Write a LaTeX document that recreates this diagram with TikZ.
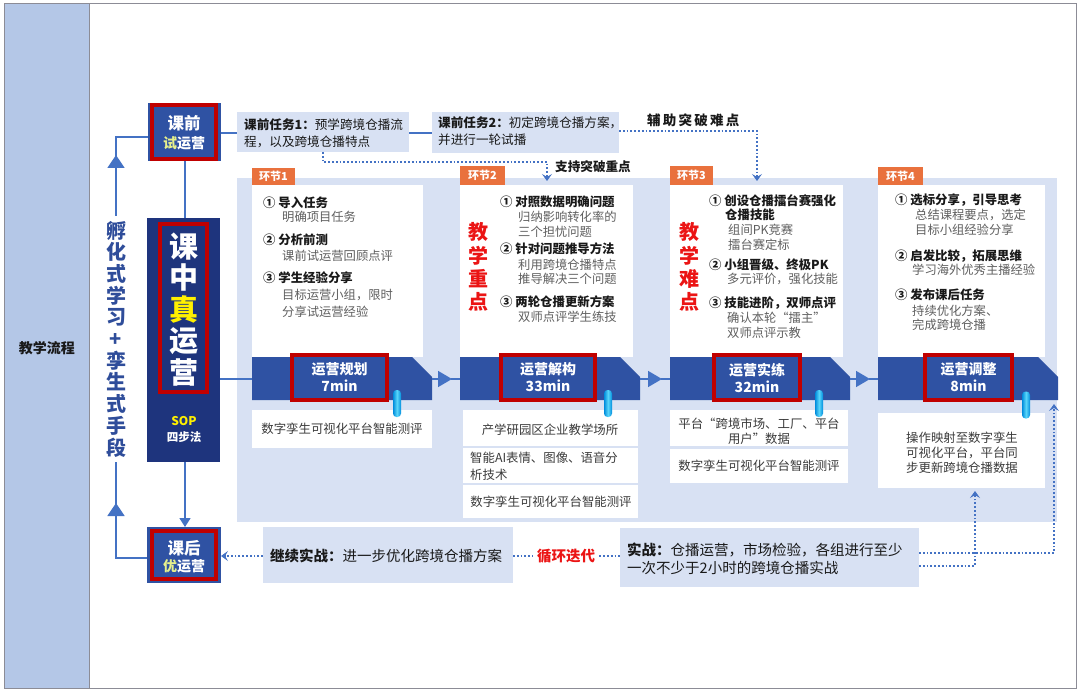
\documentclass[tikz,border=0pt]{standalone}
\usepackage{fontspec}
\setmainfont{Noto Sans CJK SC}
\usetikzlibrary{arrows.meta,fit}
\definecolor{framegray}{RGB}{140,140,150}
\definecolor{leftcol}{RGB}{180,199,231}
\definecolor{band}{RGB}{216,225,243}
\definecolor{navy}{RGB}{30,52,125}
\definecolor{bblue}{RGB}{47,82,163}
\definecolor{lineblue}{RGB}{68,114,196}
\definecolor{redf}{RGB}{192,0,0}
\definecolor{redt}{RGB}{235,20,20}
\definecolor{orangetag}{RGB}{233,113,61}
\definecolor{subgray}{RGB}{95,95,95}
\definecolor{yel}{RGB}{255,240,0}
\definecolor{paley}{RGB}{230,240,140}
\definecolor{cyanA}{RGB}{0,140,220}
\definecolor{cyanB}{RGB}{90,215,250}
\definecolor{vtext}{RGB}{47,77,154}
\definecolor{ink}{RGB}{25,25,25}
\newcommand\myfs[2]{\fontsize{#1}{#2}\selectfont}
\tikzset{
 area/.style={inner sep=0pt, outer sep=0pt},
 conn/.style={draw=lineblue, line width=1.6pt},
 dots/.style={draw=lineblue, line width=1.8pt, dotted},
 dtip/.style={-{Stealth[length=7pt,width=10pt,inset=3pt]}},
 lbl/.style={inner sep=0pt, anchor=west},
 ttl/.style={lbl, font=\bfseries\myfs{12.4}{14}, text=ink},
 sub/.style={lbl, font=\myfs{12.3}{14}, text=subgray},
 info/.style={inner sep=0pt, font=\myfs{12.4}{14}, text=ink!85},
 tag/.style={area, fill=orangetag},
 tagtext/.style={inner sep=0pt, text=white, font=\bfseries\myfs{11}{13}},
 stagelbl/.style={fill=bblue, draw=redf, line width=4pt, text=white, font=\bfseries\myfs{14}{17}, align=center, inner sep=0pt},
 pill/.style={inner sep=0pt, minimum width=8pt, minimum height=27pt, rounded corners=3.5pt, left color=cyanA, right color=cyanA, middle color=cyanB},
 bignum/.style={inner sep=0pt, align=center, font=\bfseries\myfs{20}{23.3}, text=redt},
}
\newcommand\bannerat[2]{%
  \fill[bblue] (#1,357) -- ({#1+160},357) -- ({#1+180},377) -- ({#1+180},400) -- (#1,400) -- cycle;
  \coordinate (#2w) at (#1,379);
  \coordinate (#2e) at ({#1+180},379);
}
\begin{document}
\begin{tikzpicture}[x=1pt,y=-1pt]
\useasboundingbox (0,0) rectangle (1080,690);
% frame and left column
\node[area, fit={(4,4) (1076,688)}, draw=framegray, line width=1pt] (frame) {};
\node[area, fit={(4,4) (89,688)}, fill=leftcol, draw=framegray, line width=1pt] (leftc) {};
\node[font=\bfseries\myfs{14}{16}, text=ink] (lt) at (47,348) {教学流程};

% main band
\node[area, fit={(237,178) (1057,522)}, fill=band] (band) {};

% pre / mid / post boxes
\node[area, fit={(148,103) (221,161)}, fill=bblue] (pre) {};
\draw[redf, line width=4pt] (152,105) rectangle (216,159);
\node[inner sep=0pt, text=white, font=\bfseries\myfs{16.5}{18}] (pret) at (184,123) {课前};
\node[inner sep=0pt, text=white, font=\bfseries\myfs{14}{16}] (pres) at (184,143) {\textcolor{paley}{试}运营};

\node[area, fit={(147,218) (220,462)}, fill=navy] (mid) {};
\draw[redf, line width=3.5pt] (160,224) rectangle (207,392);
\node[inner sep=0pt, align=center, text=white, font=\bfseries\myfs{29}{31.5}] (midt) at (184,309.5) {课\\中\\\textcolor{yel}{真}\\运\\营};
\node[inner sep=0pt, text=yel, font=\bfseries\myfs{12}{14}] (sop) at (184,421) {SOP};
\node[inner sep=0pt, text=white, font=\bfseries\myfs{11.5}{14}] (sopt) at (184,437) {四步法};

\node[area, fit={(147,527) (221,583)}, fill=bblue] (post) {};
\draw[redf, line width=4pt] (152,531) rectangle (216,579);
\node[inner sep=0pt, text=white, font=\bfseries\myfs{16.5}{18}] (postt) at (184,548) {课后};
\node[inner sep=0pt, text=white, font=\bfseries\myfs{14}{16}] (posts) at (184,566) {\textcolor{paley}{优}运营};

% left loop
\draw[conn] (post.west |- 0,558) -- (116,558) -- (116,137) -- (pre.west |- 0,137);
\draw[conn, -{Triangle[width=17pt,length=13pt]}] (116,530) -- (116,503);
\draw[conn, -{Triangle[width=17pt,length=13pt]}] (116,185) -- (116,155);
\node[fill=white, inner xsep=2pt, inner ysep=5pt, align=center, font=\bfseries\myfs{20}{21.7}, text=vtext] (vlab) at (116,339) {孵\\化\\式\\学\\习\\+\\孪\\生\\式\\手\\段};

% vertical connectors
\draw[conn] (pre.south -| 185,0) -- (mid.north -| 185,0);
\draw[conn, -{Triangle[width=11pt,length=9pt]}] (mid.south -| 185,0) -- (post.north -| 185,0);

% top task boxes
\node[area, fit={(237,112) (409,152)}, fill=band] (t1) {};
\node[lbl, font=\myfs{12.6}{14}, text=ink] (t1a) at (244,125) {\textbf{课前任务1：}预学跨境仓播流};
\node[lbl, font=\myfs{12.6}{14}, text=ink] (t1b) at (244,142) {程，以及跨境仓播特点};
\node[area, fit={(432,112) (619,153)}, fill=band] (t2) {};
\node[lbl, font=\myfs{12.6}{14}, text=ink] (t2a) at (438,123) {\textbf{课前任务2：}初定跨境仓播方案，};
\node[lbl, font=\myfs{12.6}{14}, text=ink] (t2b) at (438,140) {并进行一轮试播};
\draw[conn] (pre.east |- 0,133) -- (t1.west |- 0,133);
\draw[conn] (t1.east |- 0,133) -- (t2.west |- 0,133);

% dotted support arrows
\coordinate (d1s) at (323,152);
\coordinate (d1e) at (547,181);
\draw[dots, dtip] (d1s) -- (323,162) -| (d1e);
\node[lbl, font=\bfseries\myfs{12.6}{14}, text=ink] (sup1) at (555,167) {支持突破重点};
\coordinate (d2e) at (757,181);
\draw[dots, dtip] (t2.east |- 0,131) -| (d2e);
\node[lbl, font=\bfseries\myfs{13.5}{15}, text=ink] (sup2) at (647,120) {辅\,助\,突\,破\,难\,点};

% cards
\node[area, fit={(252,185) (423,357)}, fill=white] (card1) {};
\node[area, fit={(460,185) (633,357)}, fill=white] (card2) {};
\node[area, fit={(670,185) (843,357)}, fill=white] (card3) {};
\node[area, fit={(878,185) (1045,357)}, fill=white] (card4) {};

% tags
\node[tag, fit={(252,168) (295,185)}] (tag1) {};
\node[tagtext] (tag1t) at (tag1.center) {环节1};
\node[tag, fit={(460,166) (505,185)}] (tag2) {};
\node[tagtext] (tag2t) at (tag2.center) {环节2};
\node[tag, fit={(670,166) (713,185)}] (tag3) {};
\node[tagtext] (tag3t) at (tag3.center) {环节3};
\node[tag, fit={(878,167) (923,185)}] (tag4) {};
\node[tagtext] (tag4t) at (tag4.center) {环节4};

% card 1
\node[ttl] (c1a) at (263,203) {① 导入任务};
\node[sub] (c1a1) at (282,217) {明确项目任务};
\node[ttl] (c1b) at (263,240) {② 分析前测};
\node[sub] (c1b1) at (282,256) {课前试运营回顾点评};
\node[ttl] (c1c) at (263,278) {③ 学生经验分享};
\node[sub] (c1c1) at (282,295) {目标运营小组，限时};
\node[sub] (c1c2) at (282,312) {分享试运营经验};

% card 2
\node[bignum] (c2r) at (478,267) {教\\学\\重\\点};
\node[ttl] (c2a) at (500,202) {① 对照数据明确问题};
\node[sub] (c2a1) at (518,217) {归纳影响转化率的};
\node[sub] (c2a2) at (518,232) {三个担忧问题};
\node[ttl] (c2b) at (500,249) {② 针对问题推导方法};
\node[sub] (c2b1) at (518,265) {利用跨境仓播特点};
\node[sub] (c2b2) at (518,279) {推导解决三个问题};
\node[ttl] (c2c) at (500,302) {③ 两轮仓播更新方案};
\node[sub] (c2c1) at (518,317) {双师点评学生练技};

% card 3
\node[bignum] (c3r) at (689,267) {教\\学\\难\\点};
\node[ttl] (c3a) at (709,201) {① 创设仓播擂台赛强化};
\node[ttl] (c3a0) at (725,215) {仓播技能};
\node[sub] (c3a1) at (728,230) {组间PK竞赛};
\node[sub] (c3a2) at (728,245) {擂台赛定标};
\node[ttl] (c3b) at (709,265) {② 小组晋级、终极PK};
\node[sub] (c3b1) at (727,279) {多元评价，强化技能};
\node[ttl] (c3c) at (709,303) {③ 技能进阶，双师点评};
\node[sub] (c3c1) at (727,318) {确认本轮“擂主”};
\node[sub] (c3c2) at (727,333) {双师点评示教};

% card 4
\node[ttl] (c4a) at (895,200) {① 选标分享，引导思考};
\node[sub] (c4a1) at (915,215) {总结课程要点，选定};
\node[sub] (c4a2) at (915,230) {目标小组经验分享};
\node[ttl] (c4b) at (895,256) {② 启发比较，拓展思维};
\node[sub] (c4b1) at (912,270) {学习海外优秀主播经验};
\node[ttl] (c4c) at (895,295) {③ 发布课后任务};
\node[sub] (c4c1) at (912,311) {持续优化方案、};
\node[sub] (c4c2) at (912,325) {完成跨境仓播};

% banners
\bannerat{252}{b1}
\bannerat{460}{b2}
\bannerat{670}{b3}
\bannerat{878}{b4}
\draw[conn] (mid.east |- b1w) -- (b1w);
\draw[conn, -{Triangle[width=16pt,length=14pt]}] (b1e) -- ([xshift=-8pt]b2w);
\draw[conn] ([xshift=-9pt]b2w) -- (b2w);
\draw[conn, -{Triangle[width=16pt,length=14pt]}] (b2e) -- ([xshift=-8pt]b3w);
\draw[conn] ([xshift=-9pt]b3w) -- (b3w);
\draw[conn, -{Triangle[width=16pt,length=14pt]}] (b3e) -- ([xshift=-8pt]b4w);
\draw[conn] ([xshift=-9pt]b4w) -- (b4w);

% stage labels
\node[stagelbl, minimum width=95pt, minimum height=45pt] (l1) at (339.5,377.5) {运营规划\\7min};
\node[stagelbl, minimum width=94pt, minimum height=45pt] (l2) at (548,377.5) {运营解构\\33min};
\node[stagelbl, minimum width=86pt, minimum height=45pt] (l3) at (757,377.5) {运营实练\\32min};
\node[stagelbl, minimum width=87pt, minimum height=45pt] (l4) at (968.5,377.5) {运营调整\\8min};

% info boxes
\node[area, fit={(252,410) (432,448)}, fill=white] (i1) {};
\node[info] (i1t) at (342,429) {数字孪生可视化平台智能测评};
\node[area, fit={(463,410) (638,446)}, fill=white] (i2a) {};
\node[info] (i2at) at (550,430) {产学研园区企业教学场所};
\node[area, fit={(463,448) (638,483)}, fill=white] (i2b) {};
\node[lbl, font=\myfs{12.4}{14}, text=ink!85] (i2bt1) at (470,458) {智能AI表情、图像、语音分};
\node[lbl, font=\myfs{12.4}{14}, text=ink!85] (i2bt2) at (470,475) {析技术};
\node[area, fit={(463,485) (638,518)}, fill=white] (i2c) {};
\node[info] (i2ct) at (551,502) {数字孪生可视化平台智能测评};
\node[area, fit={(670,410) (848,446)}, fill=white] (i3a) {};
\node[info] (i3at1) at (759,424) {平台“跨境市场、工厂、平台};
\node[info] (i3at2) at (759,439) {用户”数据};
\node[area, fit={(670,449) (848,483)}, fill=white] (i3b) {};
\node[info] (i3bt) at (759,466) {数字孪生可视化平台智能测评};
\node[area, fit={(878,413) (1045,488)}, fill=white] (i4) {};
\node[info] (i4t1) at (962,438) {操作映射至数字孪生};
\node[info] (i4t2) at (962,453) {可视化平台，平台同};
\node[info] (i4t3) at (962,468) {步更新跨境仓播数据};

% pills
\node[pill] (p1) at (397,403.5) {};
\node[pill] (p2) at (608,403.5) {};
\node[pill] (p3) at (819,403.5) {};
\node[pill] (p4) at (1026,405) {};

% bottom row
\node[area, fit={(263,527) (513,583)}, fill=band] (c1) {};
\node[lbl, font=\myfs{14.5}{17}, text=ink] (c1t) at (270,556) {\textbf{继续实战：}进一步优化跨境仓播方案};
\node[lbl, font=\bfseries\myfs{14.5}{17}, text=redt] (loop) at (537,556) {循环迭代};
\node[area, fit={(620,528) (919,587)}, fill=band] (s1) {};
\node[lbl, font=\myfs{14.5}{17}, text=ink] (s1a) at (627,550) {\textbf{实战：}仓播运营，市场检验，各组进行至少};
\node[lbl, font=\myfs{14.5}{17}, text=ink] (s1b) at (627,568) {一次不少于2小时的跨境仓播实战};

\draw[dots, dtip] (c1.west |- 0,556) -- (post.east |- 0,556);
\draw[dots] (c1.east |- 0,556) -- ([xshift=-4pt]loop.west);
\draw[dots] ([xshift=4pt]loop.east) -- (s1.west |- 0,556);
\coordinate (r1) at (1054,404);
\draw[dots, dtip] (s1.east |- 0,553) -| (r1);
\coordinate (r2) at (975,491);
\draw[dots, dtip] (s1.east |- 0,566) -| (r2);
\end{tikzpicture}
\end{document}
